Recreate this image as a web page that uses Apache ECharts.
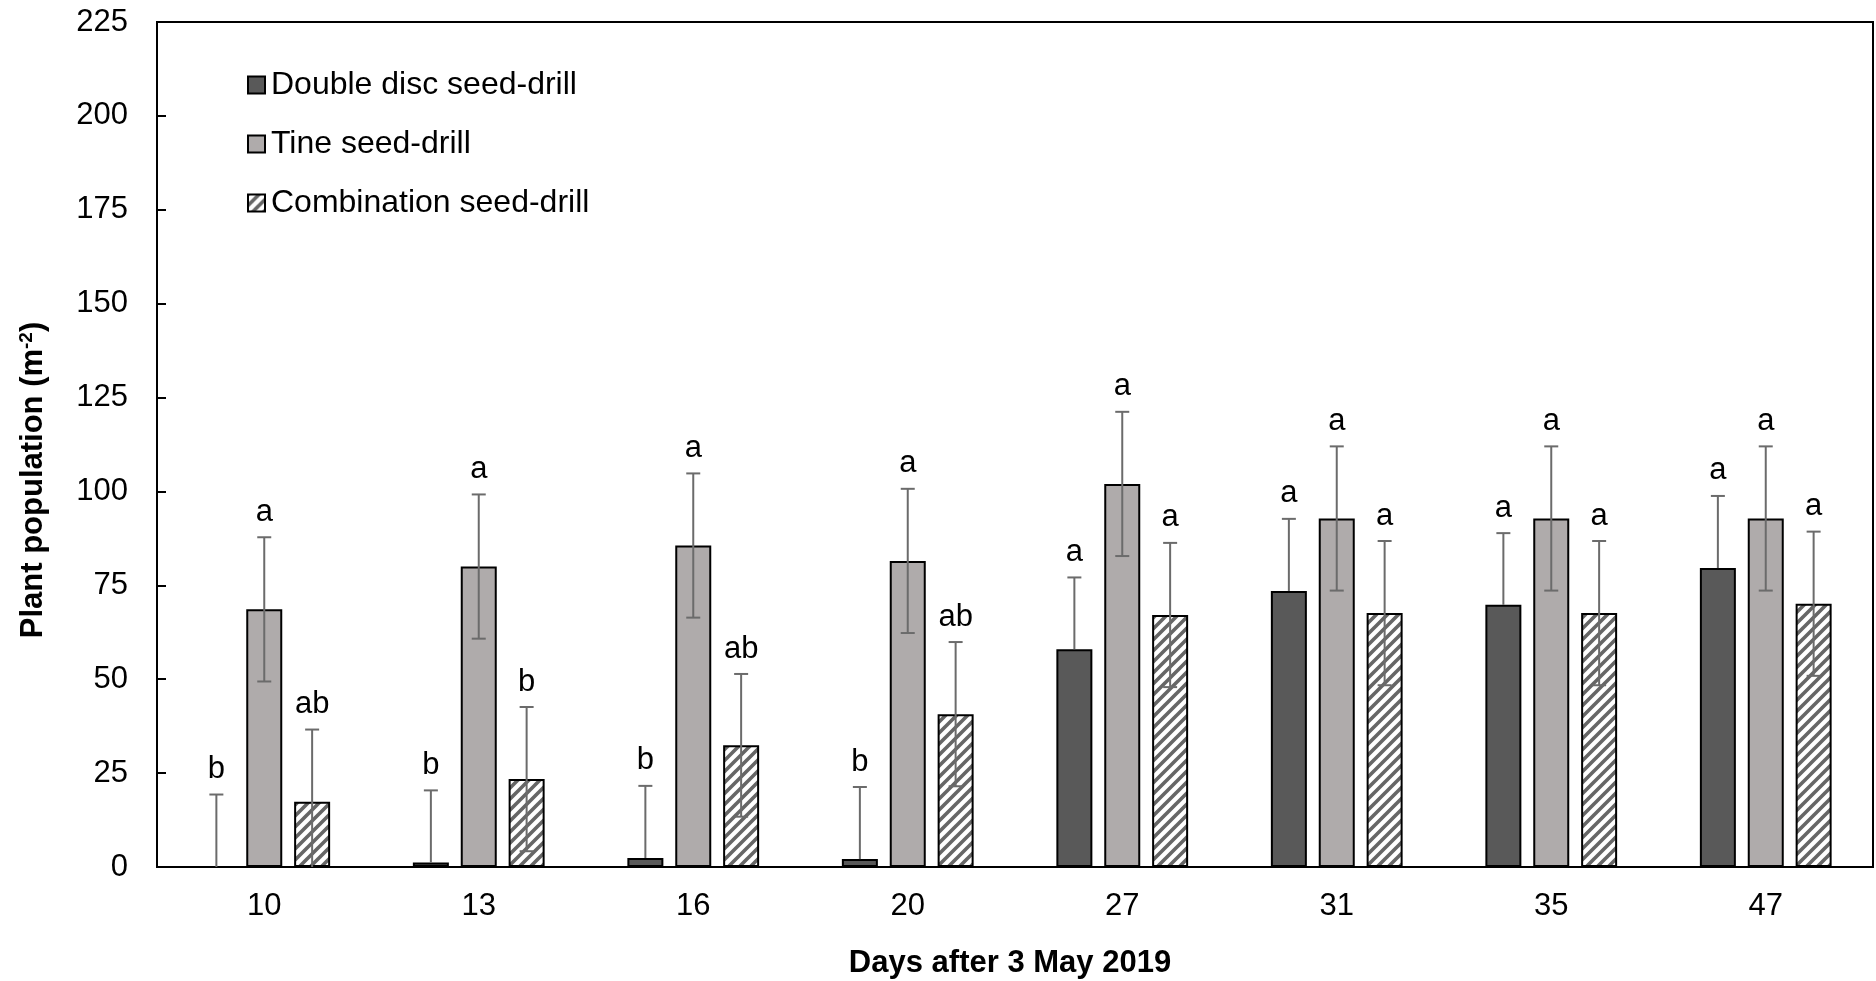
<!DOCTYPE html>
<html>
<head>
<meta charset="utf-8">
<title>Plant population by seed-drill</title>
<script src="https://cdn.jsdelivr.net/npm/echarts@6/dist/echarts.min.js"></script>
<style>
  html, body { margin: 0; padding: 0; background: #fff; }
  #chart { width: 1876px; height: 981px; }
</style>
</head>
<body>
<div id="chart"></div>
<script>
// Sampling days after sowing
const days = ['10', '13', '16', '20', '27', '31', '35', '47'];

const seriesNames = ['Double disc seed-drill', 'Tine seed-drill', 'Combination seed-drill'];

// Mean plant population (plants per m²)
const doubleDisc = [0, 1.2, 2.4, 2.1, 58.0, 73.5, 69.8, 79.6];
const tine = [68.6, 80.0, 85.6, 81.5, 102.0, 92.8, 92.8, 92.8];
const combination = [17.4, 23.4, 32.4, 40.7, 67.1, 67.6, 67.6, 70.1];

// Error bar half-widths
const doubleDiscErr = [19.3, 19.2, 19.2, 19.2, 19.1, 19.2, 19.1, 19.2];
const tineErr = [19.2, 19.2, 19.2, 19.2, 19.2, 19.2, 19.2, 19.2];
const combinationErr = [19.2, 19.2, 19.0, 19.2, 19.2, 19.2, 19.2, 19.2];

// Significance letters
const doubleDiscLetters = ['b', 'b', 'b', 'b', 'a', 'a', 'a', 'a'];
const tineLetters = ['a', 'a', 'a', 'a', 'a', 'a', 'a', 'a'];
const combinationLetters = ['ab', 'b', 'ab', 'ab', 'a', 'a', 'a', 'a'];

const yTicks = { min: 0, max: 225, interval: 25 };

// ---- styling ----
const FONT = '"Liberation Sans", Arial, Helvetica, sans-serif';
const FS = 31;
const BAR_W = 36;
const BAR_GAP = 0.33;
const SPACING = BAR_W * (1 + BAR_GAP);

// Diagonal hatch used for the combination drill
function makeHatch() {
  const s = 11;
  const c = document.createElement('canvas');
  c.width = s; c.height = s;
  const g = c.getContext('2d');
  g.fillStyle = '#ffffff';
  g.fillRect(0, 0, s, s);
  g.strokeStyle = '#666666';
  g.lineWidth = 3.6;
  g.lineCap = 'square';
  const seg = (x1, y1, x2, y2) => { g.beginPath(); g.moveTo(x1, y1); g.lineTo(x2, y2); g.stroke(); };
  seg(0, s, s, 0);
  seg(-s, s, s, -s);
  seg(0, 2 * s, 2 * s, 0);
  return c;
}
const hatch = makeHatch();

const fills = [
  '#595959',
  '#afabab',
  { image: hatch, repeat: 'repeat' }
];

const values = [doubleDisc, tine, combination];
const errors = [doubleDiscErr, tineErr, combinationErr];
const letters = [doubleDiscLetters, tineLetters, combinationLetters];
// the dark bars hide the lower half of their whiskers
const showLower = [false, true, true];

const barSeries = seriesNames.map((name, i) => ({
  name: name,
  type: 'bar',
  barWidth: BAR_W,
  barGap: (BAR_GAP * 100) + '%',
  data: values[i],
  itemStyle: { color: fills[i], borderColor: '#000', borderWidth: 2 },
  emphasis: { disabled: true },
  z: 2
}));

const errSeries = seriesNames.map((name, si) => ({
  name: name + ' error',
  type: 'custom',
  z: 5,
  silent: true,
  data: values[si].map((v, k) => [k, v, errors[si][k]]),
  encode: { x: 0, y: 1 },
  renderItem: function (params, api) {
    const k = api.value(0);
    const v = api.value(1);
    const e = api.value(2);
    const off = (si - 1) * SPACING;
    const top = api.coord([k, v + e]);
    const lowVal = showLower[si] ? Math.max(v - e, 0) : v;
    const low = api.coord([k, lowVal]);
    const x = top[0] + off;
    const cap = 7;
    const stroke = { stroke: '#6b6b6b', lineWidth: 2 };
    const children = [
      { type: 'line', shape: { x1: x, y1: top[1], x2: x, y2: low[1] }, style: stroke },
      { type: 'line', shape: { x1: x - cap, y1: top[1], x2: x + cap, y2: top[1] }, style: stroke }
    ];
    if (showLower[si] && v - e >= 0) {
      children.push({ type: 'line', shape: { x1: x - cap, y1: low[1], x2: x + cap, y2: low[1] }, style: stroke });
    }
    children.push({
      type: 'text',
      style: {
        text: letters[si][params.dataIndex],
        x: x,
        y: top[1] - 25,
        align: 'center',
        verticalAlign: 'middle',
        font: FS + 'px ' + FONT,
        fill: '#000'
      }
    });
    return { type: 'group', children: children };
  }
}));

const chart = echarts.init(document.getElementById('chart'), null, { renderer: 'canvas' });

chart.setOption({
  animation: false,
  backgroundColor: '#ffffff',
  textStyle: { fontFamily: FONT },
  grid: {
    left: 157, right: 3, top: 22, bottom: 114,
    show: true, borderColor: '#000', borderWidth: 2, backgroundColor: 'transparent'
  },
  legend: {
    data: seriesNames,
    orient: 'vertical',
    left: 242,
    top: 64,
    itemWidth: 17,
    itemHeight: 17,
    itemGap: 27,
    icon: 'rect',
    selectedMode: false,
    textStyle: { fontSize: 32, fontFamily: FONT, color: '#000', padding: [0, 0, 0, 1] }
  },
  xAxis: {
    type: 'category',
    data: days,
    axisLine: { lineStyle: { color: '#000', width: 2 } },
    axisTick: { inside: true, length: 8, lineStyle: { color: '#000', width: 2 } },
    axisLabel: { fontSize: FS, color: '#000', margin: 24, fontFamily: FONT },
    splitLine: { show: false }
  },
  yAxis: {
    type: 'value',
    min: yTicks.min,
    max: yTicks.max,
    interval: yTicks.interval,
    axisLine: { show: true, lineStyle: { color: '#000', width: 2 } },
    axisTick: { show: true, inside: true, length: 9, lineStyle: { color: '#000', width: 2 } },
    axisLabel: { fontSize: FS, color: '#000', margin: 29, fontFamily: FONT },
    splitLine: { show: false }
  },
  graphic: [
    {
      type: 'text',
      x: 33,
      y: 480,
      rotation: Math.PI / 2,
      style: {
        text: 'Plant population (m{sup|-2})',
        font: 'bold 31px ' + FONT,
        fill: '#000',
        align: 'center',
        verticalAlign: 'middle',
        rich: {
          sup: { fontSize: 19, fontWeight: 'bold', fontFamily: FONT, verticalAlign: 'top', padding: [0, 0, 12, 0] }
        }
      }
    },
    {
      type: 'text',
      x: 1010,
      y: 963,
      style: {
        text: 'Days after 3 May 2019',
        font: 'bold 31px ' + FONT,
        fill: '#000',
        align: 'center',
        verticalAlign: 'middle'
      }
    }
  ],
  series: barSeries.concat(errSeries)
});
</script>
</body>
</html>
